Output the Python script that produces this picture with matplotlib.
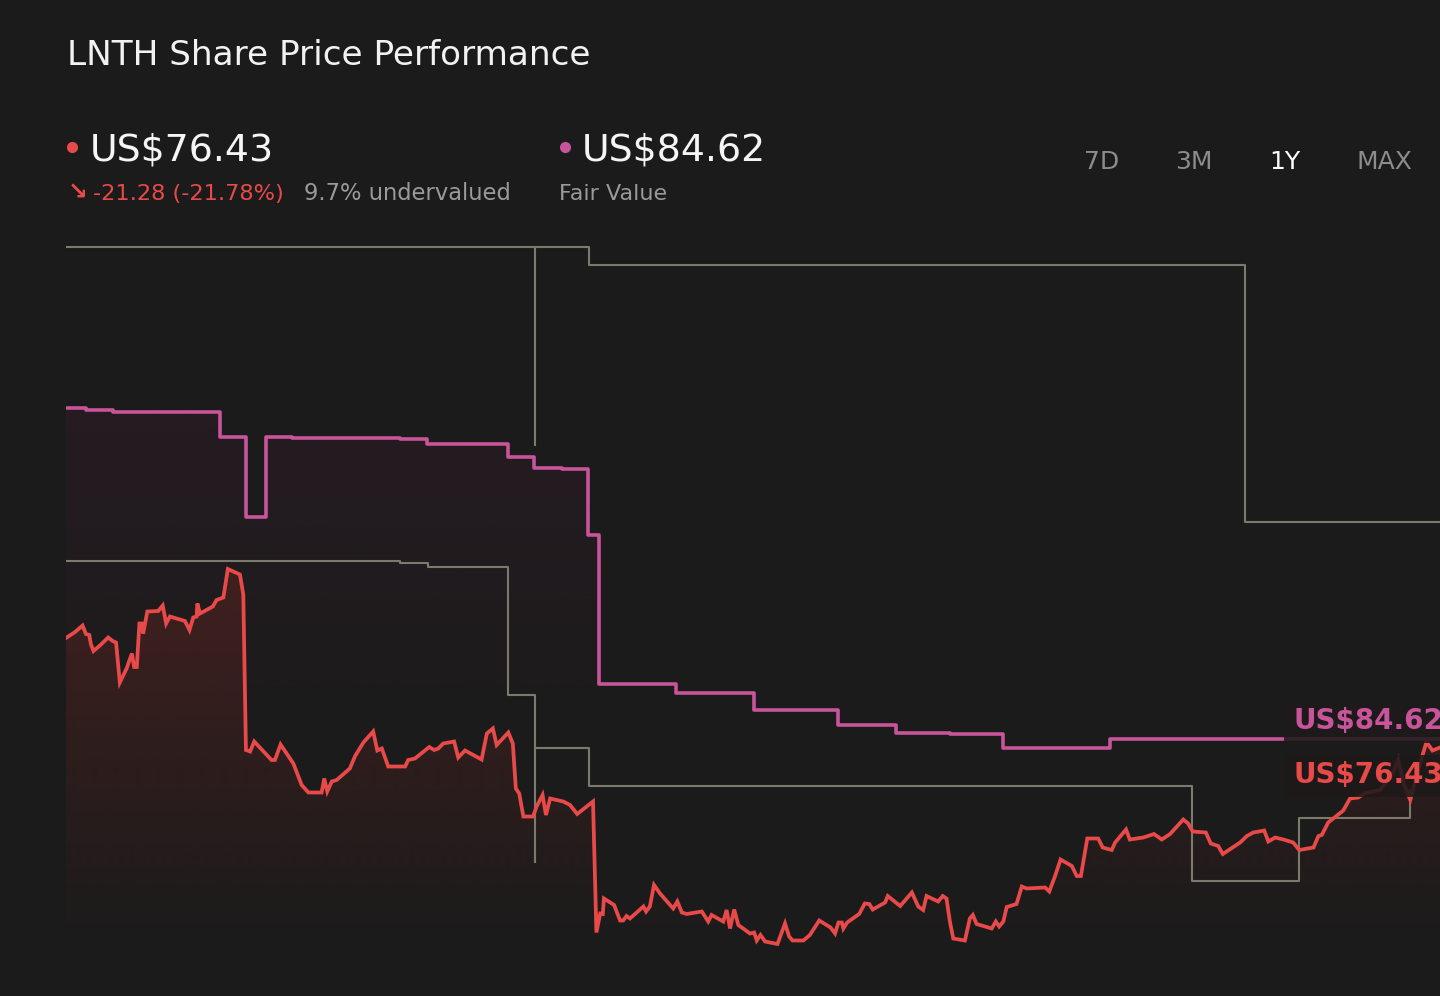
import numpy as np
import matplotlib
matplotlib.use("Agg")
import matplotlib.pyplot as plt
from matplotlib.lines import Line2D
from matplotlib.patches import Rectangle
from matplotlib.colors import to_rgb

BG = "#1b1b1b"
RED = "#e84a4a"
PINK = "#c8549a"
GREY = "#7c796d"

# LNTH close, 1 year (day offset, US$)
price_day = [0, 2.4, 4.4, 5.3, 6.2, 6.6, 7.3, 9.0, 11.2, 12.4, 13.3, 14.3, 16.1, 17.5, 18.1,
             18.8, 19.5, 20.1, 20.5, 21.6, 24.5, 25.7, 26.6, 27.6, 31.6, 32.8, 33.8, 34.7, 34.9,
             35.6, 39.0, 40.0, 41.8, 43.0, 46.2, 47.1, 47.8, 48.9, 50.0, 54.6, 55.5, 57.0, 60.4,
             62.6, 64.4, 67.9, 68.6, 69.4, 70.6, 71.9, 75.4, 76.8, 79.0, 81.6, 82.7, 83.9, 85.6,
             90.1, 90.9, 92.7, 96.5, 97.8, 98.9, 100.2, 103.1, 104.2, 106.0, 110.4, 111.8, 113.4,
             114.4, 117.5, 118.7, 119.5, 120.4, 121.5, 124.1, 125.0, 126.6, 127.5, 128.6, 132.1,
             133.9, 135.8, 140.0, 140.9, 141.9, 142.6, 142.9, 145.6, 147.2, 148.0, 148.9, 149.8,
             153.4, 154.1, 155.1, 156.2, 157.8, 161.3, 162.4, 163.6, 164.9, 168.9, 170.6, 171.5,
             174.6, 175.5, 176.4, 177.5, 178.6, 181.7, 182.8, 183.5, 184.5, 185.7, 189.0, 191.0,
             192.1, 193.0, 195.9, 197.6, 200.1, 203.1, 204.3, 205.2, 206.1, 206.5, 207.5, 210.7,
             212.2, 213.4, 214.3, 217.6, 218.3, 221.6, 224.7, 226.4, 227.7, 228.6, 231.7, 232.9,
             233.9, 234.8, 235.7, 238.8, 240.1, 240.9, 241.9, 245.9, 247.0, 247.9, 249.0, 249.9,
             252.5, 253.9, 255.2, 260.1, 261.2, 262.7, 264.2, 267.2, 268.5, 269.6, 271.3, 274.2,
             275.4, 277.8, 278.7, 281.6, 282.6, 286.2, 289.0, 291.1, 293.3, 296.8, 298.1, 299.3,
             302.8, 304.1, 306.1, 307.3, 311.9, 313.7, 315.4, 318.3, 319.4, 321.2, 323.4, 326.0,
             327.6, 331.4, 332.7, 333.6, 335.3, 339.3, 341.1, 343.3, 345.1, 349.1, 352.3, 353.9,
             355.5, 357.1, 359.2, 361.4, 363.0, 365.0]
price_val = [97.7, 98.9, 100.2, 98.5, 98.3, 96.5, 95.1, 96.2, 97.8, 97.1, 96.8, 88.8, 91.6, 94.6, 91.9,
             91.9, 100.6, 100.6, 98.6, 103.0, 103.1, 104.2, 100.6, 102.0, 101.1, 99.3, 101.8, 102.0, 104.6,
             102.6, 104.0, 105.3, 105.8, 111.5, 110.4, 106.4, 75.3, 75.0, 77.0, 73.3, 73.3, 76.4, 72.6,
             68.3, 66.8, 66.8, 69.6, 67.0, 69.0, 69.3, 71.6, 74.1, 76.8, 79.0, 75.2, 75.6, 72.0,
             72.0, 73.3, 73.6, 75.9, 75.3, 75.6, 76.6, 77.0, 73.8, 75.2, 73.4, 78.6, 79.6,
             76.3, 78.8, 76.6, 67.6, 66.6, 62.0, 62.0, 64.0, 66.3, 62.3, 65.6, 65.0,
             64.3, 62.5, 65.0, 38.8, 42.6, 42.5, 45.6, 44.3, 41.2, 41.2, 42.1, 41.6,
             44.0, 43.0, 44.0, 48.3, 46.6, 43.6, 45.0, 42.8, 42.5, 43.0, 41.0, 42.3,
             41.0, 43.3, 39.6, 43.4, 40.3, 38.6, 38.8, 37.2, 38.3, 37.0, 36.5, 40.6,
             38.0, 37.2, 37.2, 38.3, 41.2, 39.8, 38.6, 40.8, 40.8, 39.6, 40.8, 42.5,
             44.6, 44.5, 43.4, 44.8, 46.1, 44.1, 46.8, 44.0, 43.3, 46.1, 45.0, 46.1,
             45.6, 41.0, 37.6, 37.2, 41.6, 42.3, 40.5, 39.6, 41.0, 40.0, 41.0, 43.9,
             44.5, 48.0, 47.6, 47.8, 47.0, 50.0, 53.4, 52.1, 50.1, 50.1, 57.6, 57.6,
             55.8, 55.3, 56.8, 59.4, 57.4, 57.8, 58.5, 57.4, 58.5, 61.4, 60.6, 59.0,
             58.8, 56.6, 56.1, 54.5, 56.8, 58.1, 58.8, 59.2, 57.0, 57.8, 57.4, 56.8,
             55.3, 55.8, 58.1, 58.3, 60.8, 63.2, 65.6, 65.8, 66.7, 67.3, 70.3, 73.3,
             68.3, 65.3, 71.3, 76.9, 75.2, 75.8]

# fair value (step changes)
fv_day = [0, 5.2, 12.5, 40.9, 47.9, 53.2, 60.0, 88.7, 95.9, 117.4, 124.3, 131.8, 138.8, 141.5,
          162.1, 182.8, 205.1, 220.5, 234.7, 248.9, 277.3, 365]
fv_val = [143.6, 143.2, 142.8, 137.8, 121.8, 137.8, 137.6, 137.4, 136.4, 133.8, 131.7, 131.4, 118.2,
          88.5, 86.8, 83.2, 80.2, 78.8, 78.6, 75.8, 77.6, 77.6]

# analyst target bands (step changes)
band_days = [[0, 124.6],
             [124.6, 138.9, 313.2, 365],
             [0, 88.7, 96.1, 117.3, 124.5],
             [124.6, 138.9, 299.0, 327.5, 357.0]]
band_vals = [[175.9, 136.3],
             [175.9, 172.3, 120.9, 120.9],
             [113.0, 112.6, 111.8, 86.3, 53.0],
             [75.8, 68.1, 49.2, 61.8, 67.3]]

YMIN, YMAX = 33.3, 177.3
W, H = 1440, 996


def fx(px):
    return px / W


def fy(py):
    return 1 - py / H


fig = plt.figure(figsize=(14.4, 9.96), dpi=100, facecolor=BG)
ax = fig.add_axes([fx(66), fy(960), 1 - fx(66), fy(240) - fy(960)])
ax.set_xlim(0, 365)
ax.set_ylim(YMIN, YMAX)
ax.axis("off")


def gradient_fill(x, y, color, y_top, y_fade, alpha_top, z, step=None):
    poly = ax.fill_between(x, y, YMIN, step=step, color="none", lw=0)
    rgb = to_rgb(color)
    n = 256
    img = np.zeros((n, 1, 4))
    img[:, 0, :3] = rgb
    img[:, 0, 3] = np.linspace(alpha_top, 0, n)
    im = ax.imshow(img, extent=[0, 365, y_fade, y_top], origin="upper",
                   aspect="auto", zorder=z, interpolation="bilinear")
    im.set_clip_path(poly.get_paths()[0], transform=ax.transData)


gradient_fill(fv_day, fv_val, "#261c22", 145, 75, 1.0, 1, step="post")
gradient_fill(price_day, price_val, "#40201f", 112, 36, 1.0, 2)
ax.set_xlim(0, 365)
ax.set_ylim(YMIN, YMAX)

for d, v in zip(band_days, band_vals):
    ax.plot(d, v, drawstyle="steps-post", color=GREY, lw=1.5, zorder=3)

ax.plot(fv_day, fv_val, drawstyle="steps-post", color=PINK, lw=2.6, zorder=4)
ax.plot(price_day, price_val, color=RED, lw=2.7, zorder=5, solid_joinstyle="miter")

# end labels
fig.add_artist(Rectangle((fx(1284), fy(743)), 1, fy(703) - fy(743), transform=fig.transFigure,
                         fc="#1f1a1d", ec="none", alpha=0.88, zorder=10))
fig.add_artist(Rectangle((fx(1284), fy(797)), 1, fy(755) - fy(797), transform=fig.transFigure,
                         fc="#1e1919", ec="none", alpha=0.88, zorder=10))
fig.text(fx(1294), fy(721), "US$84.62", color=PINK, fontsize=20, fontweight="bold",
         va="center", ha="left", zorder=11)
fig.text(fx(1294), fy(775), "US$76.43", color=RED, fontsize=20, fontweight="bold",
         va="center", ha="left", zorder=11)

# header
fig.text(fx(67), fy(65), "LNTH Share Price Performance", color="#f2f2f2", fontsize=24.7,
         va="baseline", ha="left")

fig.add_artist(Line2D([fx(72)], [fy(147)], transform=fig.transFigure, marker="o", ms=7,
                      color=RED, lw=0))
fig.text(fx(90), fy(160), "US$76.43", color="#f5f5f5", fontsize=27.3, va="baseline", ha="left")
fig.text(fx(68), fy(200), "↘", color=RED, fontsize=17, fontweight="bold", va="baseline", ha="left")
fig.text(fx(93), fy(200), "-21.28 (-21.78%)", color=RED, fontsize=16.2, va="baseline", ha="left")
fig.text(fx(304), fy(200), "9.7% undervalued", color="#9a9a9a", fontsize=16.3, va="baseline",
         ha="left")

fig.add_artist(Line2D([fx(565)], [fy(147)], transform=fig.transFigure, marker="o", ms=7,
                      color=PINK, lw=0))
fig.text(fx(582), fy(160), "US$84.62", color="#f5f5f5", fontsize=27.3, va="baseline", ha="left")
fig.text(fx(559), fy(200), "Fair Value", color="#9a9a9a", fontsize=16, va="baseline", ha="left")

periods = ["7D", "3M", "1Y", "MAX"]
period_x = [1102, 1194, 1285, 1384]
for lab, px in zip(periods, period_x):
    fig.text(fx(px), fy(162), lab, color="#ffffff" if lab == "1Y" else "#8c8c8c",
             fontsize=18, va="center", ha="center")

fig.savefig("out.png", dpi=100, facecolor=BG)
